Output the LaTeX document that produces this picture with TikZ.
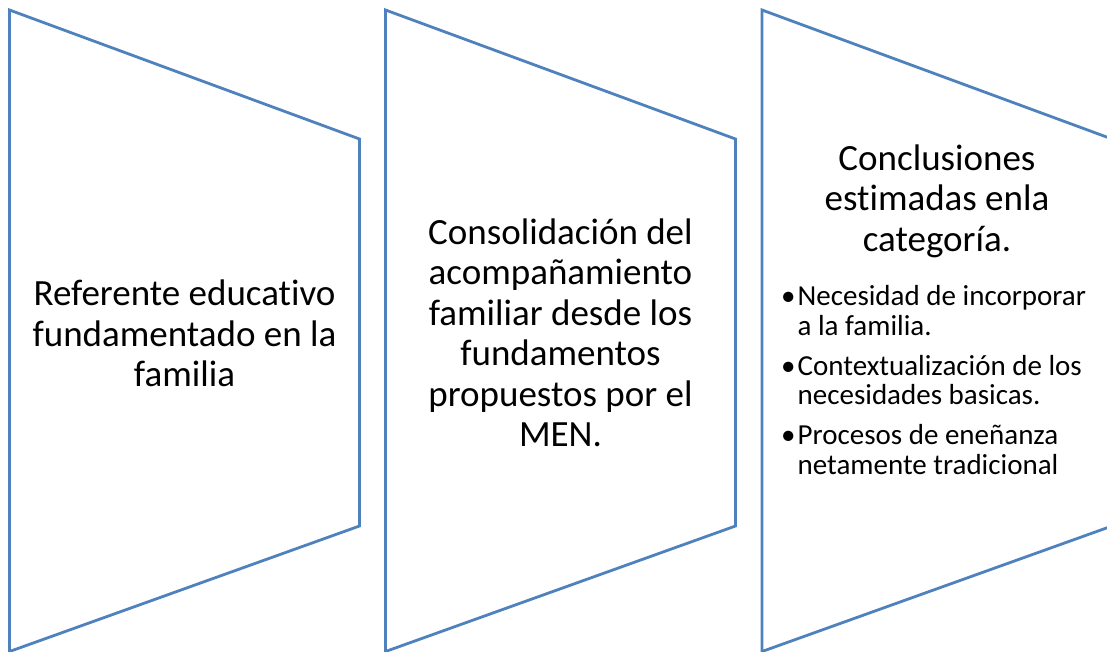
\documentclass[tikz,border=0pt]{standalone}
\usepackage{fontspec}
\setmainfont{Carlito}[Ligatures=CommonOff]
\usepackage{xcolor}
\definecolor{panelblue}{HTML}{4F81BD}
\begin{document}
\begin{tikzpicture}[x=1pt,y=-1pt,
	panel/.style={draw=panelblue,line width=2.8pt,line join=miter},
	title/.style={align=center,inner sep=0pt,font=\fontsize{37}{40.5}\selectfont},
	items/.style={align=left,inner sep=0pt,font=\fontsize{29}{29.5}\selectfont}]
	\useasboundingbox (0,0) rectangle (1107,652);
	\clip (0,0) rectangle (1107,652);
	% the three panels
	\foreach \x in {9.5,385.5,762}{
		\draw[panel] (\x,10)--(\x+350,139)--(\x+350,526)--(\x,651.5)--cycle;
	}
	\node[title] (referente) at (184.5,333.5) {Referente educativo\\fundamentado en la\\familia};
	\node[title] (consolidacion) at (560.5,333) {Consolidación del\\acompañamiento\\familiar desde los\\fundamentos\\propuestos por el\\MEN.};
	\node[title] (conclusiones) at (937,201) {Conclusiones\\estimadas enla\\categoría.};
	\node[items,anchor=north west] (puntos) at (781,285) {%
		\begin{tabular}{@{}l@{\hspace{2pt}}l@{}}
			\textbullet & Necesidad de incorporar\\
			& a la familia.\\[10.5pt]
			\textbullet & Contextualización de los\\
			& necesidades basicas.\\[10.5pt]
			\textbullet & Procesos de eneñanza\\
			& netamente tradicional
		\end{tabular}};
\end{tikzpicture}
\end{document}
